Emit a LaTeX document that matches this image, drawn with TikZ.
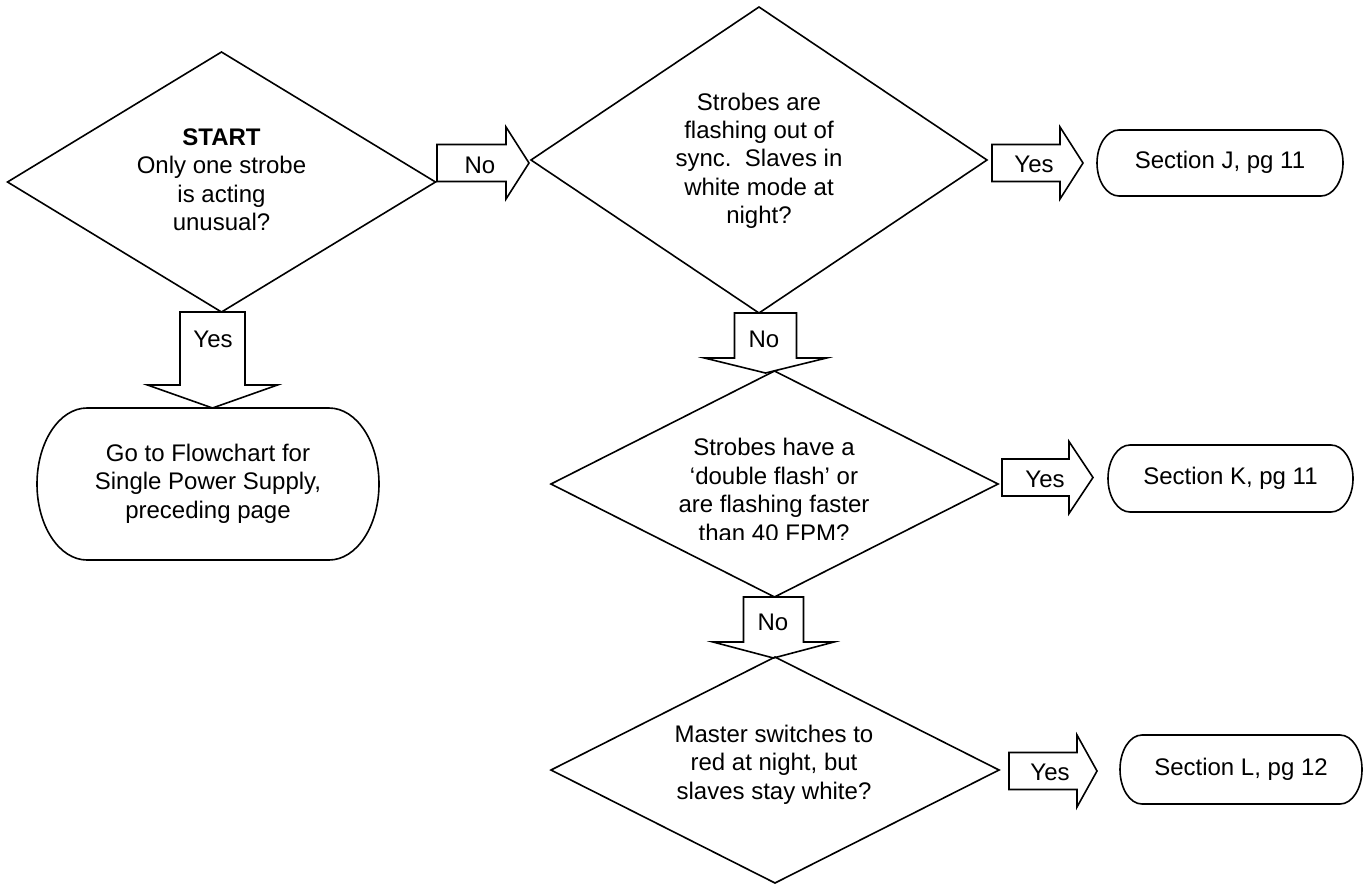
\documentclass[tikz,border=0pt]{standalone}
\usepackage{fontspec}
\setmainfont{Liberation Sans}
\usetikzlibrary{shapes.geometric}
\newcommand\rblock[4]{% left, cy, headx, tip
  \draw[lw] (#1,#2-18.5) -- (#3,#2-18.5) -- (#3,#2-36) -- (#4,#2) -- (#3,#2+36) -- (#3,#2+18.5) -- (#1,#2+18.5) -- cycle;}
\newcommand\dblock[6]{% cx, top, heady, tip, bodyhalf, headhalf
  \draw[lw] (#1-#5,#2) -- (#1+#5,#2) -- (#1+#5,#3) -- (#1+#6,#3) -- (#1,#4) -- (#1-#6,#3) -- (#1-#5,#3) -- cycle;}
\newcommand\termdraw[3]{% node name, rx, ry
  \draw[lw] ([xshift=#2pt]#1.north west) -- ([xshift=-#2pt]#1.north east)
    arc[start angle=90,end angle=-90,x radius=#2pt,y radius=#3pt]
    -- ([xshift=#2pt]#1.south west)
    arc[start angle=270,end angle=90,x radius=#2pt,y radius=#3pt] -- cycle;}
\begin{document}
\begin{tikzpicture}[x=1pt,y=-1pt,
  lw/.style={line width=1.6pt, line join=miter},
  decision/.style={diamond, draw, lw, inner sep=0pt, outer sep=0pt},
  txt/.style={inner sep=0pt, outer sep=0pt, align=center, font=\fontsize{24}{28.4}\selectfont},
  termbox/.style={txt, rectangle, minimum width=#1},
]
\useasboundingbox (0,0) rectangle (1367,884);

% decisions
\node[decision, minimum width=428pt, minimum height=260pt] (d1) at (221.5,182) {};
\node[decision, minimum width=456pt, minimum height=306pt] (d2) at (759,160) {};
\node[decision, minimum width=447pt, minimum height=226pt] (d3) at (774.5,484) {};
\node[decision, minimum width=448pt, minimum height=226pt] (d4) at (775,770) {};

\node[txt] (t1) at (221.5,182.3) {\strut\textbf{START}\\Only one strobe\\is acting\\unusual?\strut};
\node[txt] (t2) at (759,161.3) {\strut Strobes are\\flashing out of\\sync.\ \ Slaves in\\white mode at\\night?\strut};
\begin{scope}
  \clip (540,380) rectangle (1010,539);
  \node[txt] (t3) at (774,492.8) {\strut Strobes have a\\‘double flash’ or\\are flashing faster\\than 40 FPM?\strut};
\end{scope}
\node[txt] (t4) at (774,765.3) {\strut Master switches to\\red at night, but\\slaves stay white?\strut};

% terminals
\node[termbox=342pt, minimum height=152pt] (go) at (208,484) {\strut Go to Flowchart for\\Single Power Supply,\\preceding page\strut};
\termdraw{go}{50}{76}
\node[termbox=246pt, minimum height=66pt] (tJ) at (1220,163) {\strut Section J, pg 11};
\termdraw{tJ}{22}{33}
\node[termbox=245pt, minimum height=67pt] (tK) at (1230.5,478.5) {\strut Section K, pg 11};
\termdraw{tK}{22}{33.5}
\node[termbox=242pt, minimum height=69pt] (tL) at (1241,769.5) {\strut Section L, pg 12};
\termdraw{tL}{22}{34.5}

% block arrows
\rblock{437}{163}{506}{529}
\node[txt] (a1) at (480,165) {No};
\rblock{992}{163}{1060}{1083}
\node[txt] (a2) at (1034,164) {Yes};
\rblock{1002}{477.5}{1069}{1093}
\node[txt] (a3) at (1045,479) {Yes};
\rblock{1009}{771}{1077}{1097}
\node[txt] (a4) at (1050,772) {Yes};

\dblock{212.5}{312}{385}{408}{32.5}{65}
\node[txt] (a5) at (213,339) {Yes};
\dblock{765.5}{313}{358}{373}{31}{61}
\node[txt] (a6) at (764,339) {No};
\dblock{773.5}{597}{642}{658}{30}{60.5}
\node[txt] (a7) at (773,622) {No};
\end{tikzpicture}
\end{document}
